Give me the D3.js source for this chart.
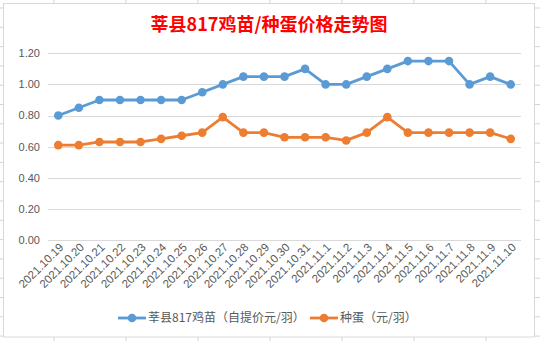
<!DOCTYPE html>
<html><head><meta charset="utf-8">
<script src="https://cdn.jsdelivr.net/npm/d3@7/dist/d3.min.js"></script>
<style>body{margin:0;background:#fff;}svg{display:block;}</style>
</head><body>
<svg id="c" width="540" height="341"></svg>
<script>
const categories = ["2021.10.19","2021.10.20","2021.10.21","2021.10.22","2021.10.23","2021.10.24","2021.10.25","2021.10.26","2021.10.27","2021.10.28","2021.10.29","2021.10.30","2021.10.31","2021.11.1","2021.11.2","2021.11.3","2021.11.4","2021.11.5","2021.11.6","2021.11.7","2021.11.8","2021.11.9","2021.11.10"];
const chickValues = [0.80,0.85,0.90,0.90,0.90,0.90,0.90,0.95,1.00,1.05,1.05,1.05,1.10,1.00,1.00,1.05,1.10,1.15,1.15,1.15,1.00,1.05,1.00];
const eggValues = [0.61,0.61,0.63,0.63,0.63,0.65,0.67,0.69,0.79,0.69,0.69,0.66,0.66,0.66,0.64,0.69,0.79,0.69,0.69,0.69,0.69,0.69,0.65];
const yTicks = [0,0.2,0.4,0.6,0.8,1.0,1.2];
const seriesNames = ["莘县817鸡苗（自提价元/羽）","种蛋（元/羽）"];
const title = "莘县817鸡苗/种蛋价格走势图";

const svg = d3.select("#c");
const W = 540, H = 341;
const font = "'Liberation Sans','DejaVu Sans',sans-serif";
const cjk = "'Noto Sans CJK SC','Noto Sans',sans-serif";

// spreadsheet background grid
const g0 = svg.append("g");
for (let x = 54; x < W; x += 72) g0.append("line").attr("x1",x).attr("x2",x).attr("y1",0).attr("y2",H).attr("stroke","#d4d4d4");
for (let y = 8; y < H; y += 19.3) g0.append("line").attr("x1",0).attr("x2",W).attr("y1",y).attr("y2",y).attr("stroke","#d4d4d4");

// chart area
svg.append("rect").attr("x",3.5).attr("y",3.5).attr("width",531).attr("height",333.5).attr("fill","#fff").attr("stroke","#d9d9d9");

const x = d3.scaleBand().domain(categories).range([48,521]);
const y = d3.scaleLinear().domain([0,1.2]).range([240,53.3]);
const cx = d => x(d) + x.bandwidth()/2;

// gridlines
svg.append("g").selectAll("line").data(yTicks).join("line")
  .attr("x1",48).attr("x2",521).attr("y1",d=>Math.round(y(d))+0.5).attr("y2",d=>Math.round(y(d))+0.5)
  .attr("stroke","#d9d9d9").attr("stroke-width",1);

// y labels
svg.append("g").selectAll("text").data(yTicks).join("text")
  .attr("x",40).attr("y",d=>y(d)).attr("dy","0.35em").attr("text-anchor","end")
  .attr("font-family",font).attr("font-size",11).attr("fill","#595959")
  .text(d=>d3.format(".2f")(d));

// x labels
svg.append("g").selectAll("text").data(categories).join("text")
  .attr("text-anchor","end")
  .attr("transform",d=>`translate(${cx(d)+6},${248}) rotate(-45)`)
  .attr("font-family",font).attr("font-size",11.5).attr("fill","#595959")
  .text(d=>d);

// title
svg.append("text").attr("x",269).attr("y",31).attr("text-anchor","middle")
  .attr("font-family",cjk).attr("font-size",18).attr("font-weight","bold").attr("fill","#ff0000")
  .text(title);

const colors = ["#5b9bd5","#ed7d31"];
const series = [chickValues, eggValues];
const line = d3.line().x((d,i)=>cx(categories[i])).y(d=>y(d));
series.forEach((vals,k)=>{
  svg.append("path").datum(vals).attr("d",line).attr("fill","none")
    .attr("stroke",colors[k]).attr("stroke-width",2.8).attr("stroke-linejoin","round");
  svg.append("g").selectAll("circle").data(vals).join("circle")
    .attr("cx",(d,i)=>cx(categories[i])).attr("cy",d=>y(d)).attr("r",4.3).attr("fill",colors[k]);
});

// legend
const legY = 318;
const legX = [118, 310];
seriesNames.forEach((name,k)=>{
  const g = svg.append("g");
  g.append("line").attr("x1",legX[k]).attr("x2",legX[k]+28).attr("y1",legY).attr("y2",legY).attr("stroke",colors[k]).attr("stroke-width",2.8);
  g.append("circle").attr("cx",legX[k]+14).attr("cy",legY).attr("r",4.3).attr("fill",colors[k]);
  g.append("text").attr("x",legX[k]+30).attr("y",legY).attr("dy","0.36em")
    .attr("font-family",cjk).attr("font-size",12).attr("fill","#595959").text(name);
});
</script>
</body></html>
